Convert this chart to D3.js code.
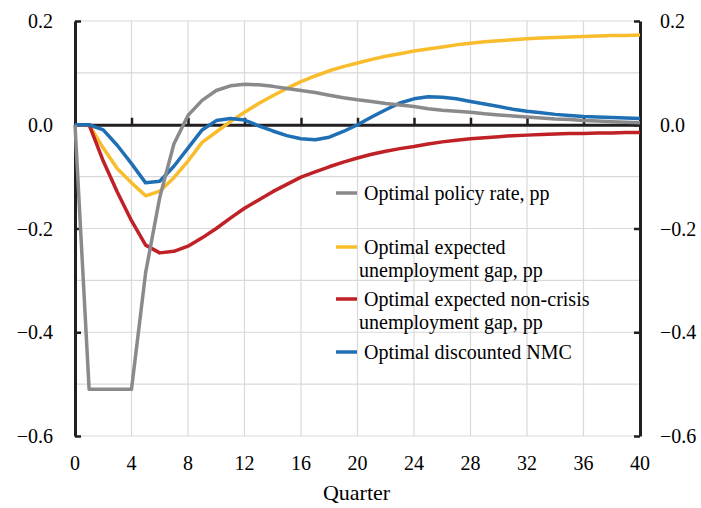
<!DOCTYPE html>
<html>
<head>
<meta charset="utf-8">
<script src="https://cdn.jsdelivr.net/npm/d3@7"></script>
<style>
    body { margin: 0; background: #fff; }
    svg { display: block; }
    text { font-family: "Liberation Serif", "Times New Roman", serif; fill: #000; }
</style>
</head>
<body>
<div id="chart"></div>
<script>
var quarters = d3.range(0, 41);

var policyRate = [0, -0.51, -0.51, -0.51, -0.51, -0.285, -0.14, -0.037, 0.018, 0.047,
    0.066, 0.075, 0.078, 0.077, 0.074, 0.070, 0.066, 0.062, 0.057, 0.052,
    0.048, 0.045, 0.041, 0.038, 0.035, 0.031, 0.028, 0.026, 0.024, 0.021,
    0.019, 0.017, 0.015, 0.013, 0.011, 0.010, 0.008, 0.007, 0.006, 0.005, 0.004];

var expectedGap = [0, 0, -0.045, -0.085, -0.112, -0.137, -0.128, -0.102, -0.07, -0.034,
    -0.014, 0.006, 0.024, 0.041, 0.056, 0.070, 0.083, 0.094, 0.104, 0.112,
    0.119, 0.126, 0.132, 0.137, 0.142, 0.146, 0.150, 0.154, 0.157, 0.160,
    0.162, 0.164, 0.166, 0.167, 0.168, 0.169, 0.170, 0.171, 0.172, 0.172, 0.173];

var nonCrisisGap = [0, 0, -0.07, -0.13, -0.185, -0.232, -0.247, -0.244, -0.234, -0.218,
    -0.2, -0.18, -0.161, -0.145, -0.129, -0.115, -0.101, -0.091, -0.081, -0.072,
    -0.064, -0.057, -0.051, -0.046, -0.042, -0.037, -0.033, -0.030, -0.027, -0.025,
    -0.023, -0.021, -0.020, -0.019, -0.018, -0.017, -0.017, -0.016, -0.016, -0.015, -0.015];

var discountedNMC = [0, 0, -0.01, -0.04, -0.075, -0.112, -0.109, -0.08, -0.045, -0.01,
    0.008, 0.012, 0.009, -0.002, -0.012, -0.021, -0.027, -0.029, -0.024, -0.013,
    0, 0.015, 0.029, 0.042, 0.050, 0.054, 0.053, 0.050, 0.045, 0.040,
    0.035, 0.030, 0.026, 0.023, 0.020, 0.018, 0.016, 0.015, 0.014, 0.013, 0.012];

var xTicks = d3.range(0, 41, 4);
var yTicks = [0.2, 0, -0.2, -0.4, -0.6];
var yGrid = d3.range(-6, 3).map(function(d) { return d / 10; });

// drawing order: gray sits on the secondary axis, so it goes last (on top)
var series = [
    { name: 'expected', values: expectedGap, color: '#f9bc2c' },
    { name: 'noncrisis', values: nonCrisisGap, color: '#bf2127' },
    { name: 'nmc', values: discountedNMC, color: '#1f6fb5' },
    { name: 'policy', values: policyRate, color: '#8a8a8c' }
];

var legendItems = [
    { lines: ['Optimal policy rate, pp'], color: '#8a8a8c', y: 193 },
    { lines: ['Optimal expected', 'unemployment gap, pp'], color: '#f9bc2c', y: 247 },
    { lines: ['Optimal expected non-crisis', 'unemployment gap, pp'], color: '#bf2127', y: 299 },
    { lines: ['Optimal discounted NMC'], color: '#1f6fb5', y: 352 }
];

var width = 701, height = 508;
var x = d3.scaleLinear().domain([0, 40]).range([75, 640]);
var y = d3.scaleLinear().domain([-0.6, 0.2]).range([436, 21]);

var svg = d3.select('#chart').append('svg')
    .attr('width', width)
    .attr('height', height);

// grid
svg.append('g')
    .selectAll('line')
    .data(yGrid)
    .enter().append('line')
    .attr('x1', x(0)).attr('x2', x(40))
    .attr('y1', function(d) { return y(d); })
    .attr('y2', function(d) { return y(d); })
    .attr('stroke', '#d9d9d9')
    .attr('stroke-width', 1.2);

svg.append('g')
    .selectAll('line')
    .data(xTicks.slice(1, -1))
    .enter().append('line')
    .attr('x1', function(d) { return x(d); })
    .attr('x2', function(d) { return x(d); })
    .attr('y1', y(0.2)).attr('y2', y(-0.6))
    .attr('stroke', '#d9d9d9')
    .attr('stroke-width', 1.2);

// zero line with upward ticks
var xAxis = svg.append('g')
    .attr('transform', 'translate(0,' + y(0) + ')')
    .call(d3.axisTop(x).tickValues(xTicks.slice(1, -1)).tickSize(7).tickFormat(''));
xAxis.select('.domain').attr('stroke', '#231f20').attr('stroke-width', 3);
xAxis.selectAll('.tick line').attr('stroke', '#231f20').attr('stroke-width', 2.5);

// left and right axes, ticks inward
var leftAxis = svg.append('g')
    .attr('transform', 'translate(' + x(0) + ',0)')
    .call(d3.axisRight(y).tickValues(yTicks).tickSizeInner(6).tickSizeOuter(0).tickFormat(''));
var rightAxis = svg.append('g')
    .attr('transform', 'translate(' + x(40) + ',0)')
    .call(d3.axisLeft(y).tickValues(yTicks).tickSizeInner(6).tickSizeOuter(0).tickFormat(''));
[leftAxis, rightAxis].forEach(function(a) {
    a.select('.domain').attr('stroke', '#231f20').attr('stroke-width', 3);
    a.selectAll('.tick line').attr('stroke', '#231f20').attr('stroke-width', 2.5);
});

// tick labels
var fmt = d3.format('.1f');
svg.append('g').selectAll('text')
    .data(yTicks)
    .enter().append('text')
    .attr('x', 53)
    .attr('y', function(d) { return y(d); })
    .attr('dy', '0.35em')
    .attr('text-anchor', 'end')
    .attr('font-size', 20)
    .text(function(d) { return fmt(d); });

svg.append('g').selectAll('text')
    .data(yTicks)
    .enter().append('text')
    .attr('x', 660)
    .attr('y', function(d) { return y(d); })
    .attr('dy', '0.35em')
    .attr('font-size', 20)
    .text(function(d) { return fmt(d); });

svg.append('g').selectAll('text')
    .data(xTicks)
    .enter().append('text')
    .attr('x', function(d) { return x(d); })
    .attr('y', 470)
    .attr('text-anchor', 'middle')
    .attr('font-size', 20)
    .text(function(d) { return d; });

svg.append('text')
    .attr('x', x(20) - 1)
    .attr('y', 500)
    .attr('text-anchor', 'middle')
    .attr('font-size', 22)
    .text('Quarter');

// series
var line = d3.line()
    .x(function(d, i) { return x(quarters[i]); })
    .y(function(d) { return y(d); });

svg.append('g')
    .selectAll('path')
    .data(series)
    .enter().append('path')
    .attr('d', function(d) { return line(d.values); })
    .attr('fill', 'none')
    .attr('stroke', function(d) { return d.color; })
    .attr('stroke-width', 3.5)
    .attr('stroke-linejoin', 'round');

// legend
var legend = svg.append('g');
legendItems.forEach(function(item) {
    legend.append('line')
        .attr('x1', 336).attr('x2', 357)
        .attr('y1', item.y).attr('y2', item.y)
        .attr('stroke', item.color)
        .attr('stroke-width', 3.5);
    item.lines.forEach(function(t, i) {
        legend.append('text')
            .attr('x', i === 0 ? 364 : 359)
            .attr('y', item.y + i * 23)
            .attr('dy', '0.35em')
            .attr('font-size', 20)
            .text(t);
    });
});
</script>
</body>
</html>
